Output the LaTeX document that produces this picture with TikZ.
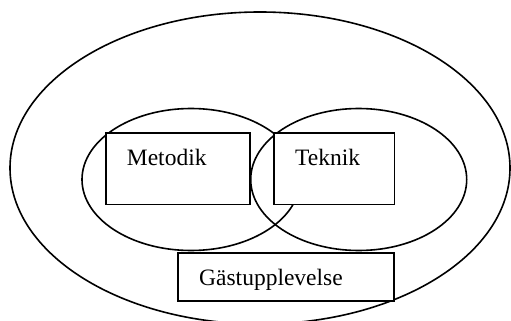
\documentclass[tikz,border=0pt]{standalone}
\usepackage{fontspec}
\setmainfont{Liberation Serif}
\usetikzlibrary{shapes.geometric}
\tikzset{
  ring/.style={ellipse, draw, line width=1.6pt, inner sep=0pt},
  box/.style={rectangle, draw, fill=white, line width=1.6pt, inner sep=0pt},
  lbl/.style={anchor=base west, inner sep=0pt, font=\fontsize{23.5}{28}\selectfont}
}
\begin{document}
\begin{tikzpicture}[x=1pt,y=-1pt]
\useasboundingbox (0,0) rectangle (511,321);
\clip (0,0) rectangle (511,321);
\node[ring, minimum width=500pt, minimum height=312pt] (outer) at (260,168) {};
\node[ring, minimum width=218pt, minimum height=142pt] (left) at (191,179.5) {};
\node[ring, minimum width=216pt, minimum height=142pt] (right) at (358.7,179.5) {};
\node[box, minimum width=144.3pt, minimum height=71.6pt] (mbox) at (177.85,168.5) {};
\node[box, minimum width=120.3pt, minimum height=71.6pt] (tbox) at (334.15,168.5) {};
\node[box, minimum width=216.3pt, minimum height=48pt] (gbox) at (285.85,276.7) {};
\node[lbl] (mtext) at (126.7,165.7) {Metodik};
\node[lbl] (ttext) at (295,165.7) {Teknik};
\node[lbl] (gtext) at (199,285.7) {Gästupplevelse};
\end{tikzpicture}
\end{document}
